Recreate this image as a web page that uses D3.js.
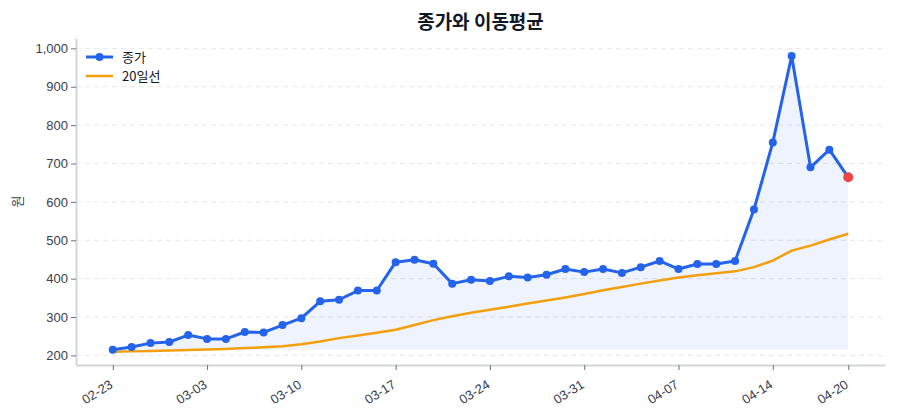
<!DOCTYPE html>
<html>
<head>
<meta charset="utf-8">
<script src="https://cdn.jsdelivr.net/npm/d3@7"></script>
<style>
  body { margin: 0; background: #fff; }
  svg { font-family: "Noto Sans CJK KR", "Noto Sans", sans-serif; }
</style>
</head>
<body>
<div id="mount"></div>
<script>
'use strict';

// closing prices, one per trading day
const close = [215, 222, 232, 235, 253, 243, 243, 261, 260, 279,
               297, 341, 345, 369, 369, 443, 449, 439, 387, 397,
               394, 406, 403, 410, 425, 417, 425, 415, 430, 446,
               425, 438, 438, 446, 580, 755, 980, 690, 736, 664];

// 20-day moving average
const ma20 = [209.5, 210.5, 211.5, 212.5, 214, 215.5, 217, 219, 221, 224,
              229, 236, 245, 252, 259, 267, 279, 292, 302, 311,
              319, 327, 335, 343, 351, 360, 370, 378, 387, 395,
              403, 409, 414, 419, 430, 447, 473, 486, 502, 517];

const tickIdx = [0, 5, 10, 15, 20, 25, 30, 35, 39];
const tickLabels = ['02-23', '03-03', '03-10', '03-17', '03-24', '03-31', '04-07', '04-14', '04-20'];
const yTicks = [200, 300, 400, 500, 600, 700, 800, 900, 1000];

const margin = { top: 38, left: 76, bottom: 55, right: 15 },
      width = 900 - margin.left - margin.right,
      height = 420 - margin.top - margin.bottom;

const svg = d3.select('#mount').append('svg')
    .attr('width', 900)
    .attr('height', 420);

const graph = svg.append('g')
    .attr('transform', `translate(${margin.left}, ${margin.top})`);

const x = d3.scaleLinear().domain([-1.95, close.length - 1 + 1.95]).range([0, width]);
const y = d3.scaleLinear().domain([175, 1027]).range([height, 0]);

// dashed horizontal grid
graph.selectAll('.grid')
    .data(yTicks)
  .enter().append('line')
    .attr('x1', 0).attr('x2', width)
    .attr('y1', d => y(d)).attr('y2', d => y(d))
    .style('stroke', '#e5e7eb')
    .style('stroke-dasharray', '5,4');

// area under the close line
const base = d3.min(close);
graph.append('path')
    .datum(close)
    .attr('d', d3.area().x((d, i) => x(i)).y0(y(base)).y1(d => y(d)))
    .style('fill', '#2563eb')
    .style('fill-opacity', 0.08);

// moving average
graph.append('path')
    .datum(ma20)
    .attr('d', d3.line().x((d, i) => x(i)).y(d => y(d)))
    .style('fill', 'none')
    .style('stroke', '#f59e0b')
    .style('stroke-width', 2.5);

// close line + dots
graph.append('path')
    .datum(close)
    .attr('d', d3.line().x((d, i) => x(i)).y(d => y(d)))
    .style('fill', 'none')
    .style('stroke', '#2563eb')
    .style('stroke-width', 3)
    .style('stroke-linejoin', 'round');

graph.selectAll('.dot')
    .data(close.slice(0, -1))
  .enter().append('circle')
    .attr('r', 4)
    .attr('cx', (d, i) => x(i))
    .attr('cy', d => y(d))
    .style('fill', '#2563eb');

const last = close.length - 1;
graph.append('circle')
    .attr('r', 5)
    .attr('cx', x(last))
    .attr('cy', y(close[last]))
    .style('fill', '#ef4444');

// axes
const xAxis = graph.append('g')
    .attr('transform', `translate(0, ${height})`)
    .call(d3.axisBottom(x).tickValues(tickIdx).tickFormat((d, i) => tickLabels[i]).tickSize(5).tickSizeOuter(0));
xAxis.selectAll('text')
    .attr('text-anchor', 'end')
    .attr('x', 0)
    .attr('y', 0)
    .attr('dy', '0.35em')
    .attr('transform', 'translate(-2, 18) rotate(-32)');

const yAxis = graph.append('g')
    .call(d3.axisLeft(y).tickValues(yTicks).tickFormat(d3.format(',')).tickSize(5).tickSizeOuter(0));

[xAxis, yAxis].forEach(a => {
  a.select('.domain').style('stroke', '#d1d5db').style('stroke-width', 2);
  a.selectAll('.tick line').style('stroke', '#6b7280');
  a.selectAll('text').style('fill', '#374151').style('font-size', '13px');
});

// title + y label
svg.append('text')
    .attr('x', margin.left + width / 2)
    .attr('y', 29)
    .attr('text-anchor', 'middle')
    .style('font-size', '19px')
    .style('font-weight', 'bold')
    .style('fill', '#111827')
    .text('종가와 이동평균');

svg.append('text')
    .attr('transform', `translate(22, ${margin.top + height / 2}) rotate(-90)`)
    .attr('text-anchor', 'middle')
    .style('font-size', '13px')
    .style('fill', '#374151')
    .text('원');

// legend
const legend = graph.append('g').attr('transform', 'translate(10, 19)');
legend.append('line')
    .attr('x1', 0).attr('x2', 27).attr('y1', 0).attr('y2', 0)
    .style('stroke', '#2563eb').style('stroke-width', 3);
legend.append('circle').attr('cx', 13.5).attr('cy', 0).attr('r', 4).style('fill', '#2563eb');
legend.append('text').attr('x', 36).attr('y', 0).attr('dy', '0.35em')
    .style('font-size', '13px').style('fill', '#111827').text('종가');
legend.append('line')
    .attr('x1', 0).attr('x2', 27).attr('y1', 19).attr('y2', 19)
    .style('stroke', '#f59e0b').style('stroke-width', 2.5);
legend.append('text').attr('x', 36).attr('y', 19).attr('dy', '0.35em')
    .style('font-size', '13px').style('fill', '#111827').text('20일선');
</script>
</body>
</html>
